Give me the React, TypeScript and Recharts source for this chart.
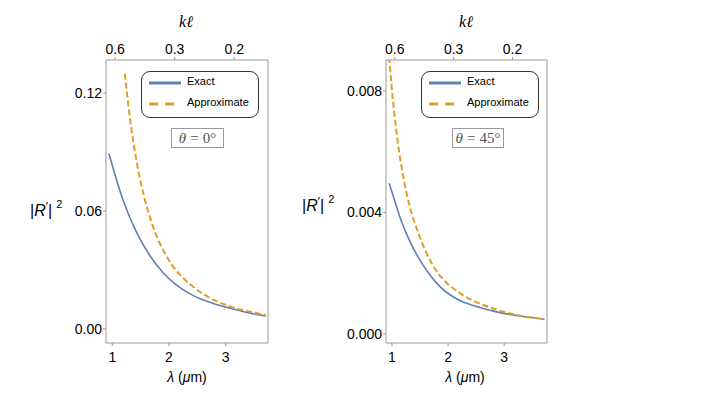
import React from "react";
import { LineChart, Line, XAxis, YAxis, Legend, ReferenceLine } from "recharts";

// bottom axis: wavelength in µm
const lambdaTicks = [1, 2, 3];
// top axis: kℓ labels and the λ where each one sits
const kEllLabels = ["0.6", "0.3", "0.2"];
const kEllAtLambda = [1.05, 2.1, 3.15];

// θ = 0°
const leftExactLambda = [0.94, 1.18, 1.43, 1.67, 1.9, 2.14, 2.43, 2.78, 3.13, 3.43, 3.71];
const leftExact = [0.0893, 0.0664, 0.049, 0.037, 0.0285, 0.0222, 0.017, 0.013, 0.0102, 0.0081, 0.0066];
const leftApproxLambda = [1.22, 1.27, 1.33, 1.38, 1.44, 1.56, 1.67, 1.78, 1.9, 2.08, 2.25, 2.49, 2.78, 3.13, 3.43, 3.71];
const leftApprox = [0.1299, 0.117, 0.1032, 0.0935, 0.0834, 0.0674, 0.0563, 0.0474, 0.0401, 0.0315, 0.026, 0.02, 0.015, 0.011, 0.0088, 0.0071];
const leftYTicks = [0, 0.06, 0.12];

// θ = 45°
const rightExactLambda = [0.95, 1.03, 1.15, 1.33, 1.56, 1.68, 1.86, 2.04, 2.21, 2.39, 2.57, 2.81, 3.04, 3.28, 3.52, 3.72];
const rightExact = [0.00496, 0.00449, 0.0038, 0.003, 0.00225, 0.00193, 0.00155, 0.00128, 0.0011, 0.00097, 0.00087, 0.00075, 0.00066, 0.00059, 0.00053, 0.00048];
const rightApproxLambda = [0.95, 0.96, 0.99, 1.04, 1.1, 1.16, 1.23, 1.31, 1.49, 1.71, 1.83, 1.98, 2.12, 2.27, 2.45, 2.63, 2.81, 2.98, 3.16, 3.34, 3.52, 3.69];
const rightApprox = [0.00912, 0.00888, 0.00822, 0.00728, 0.00635, 0.0056, 0.0049, 0.00425, 0.00322, 0.00232, 0.00198, 0.00167, 0.00146, 0.00127, 0.00109, 0.00095, 0.00083, 0.00073, 0.00065, 0.00058, 0.00053, 0.00049];
const rightYTicks = [0, 0.004, 0.008];

const BLUE = "#5E81B5";
const ORANGE = "#E19C24";
const FRAME = "#999";
const SANS = "'Liberation Sans', Arial, sans-serif";
const SERIF = "'Liberation Serif', 'Times New Roman', serif";

const zip = (xs: number[], ys: number[]) => xs.map((x, i) => ({ x, y: ys[i] }));

function LegendBox() {
  return (
    <div
      style={{
        position: "relative",
        width: 118,
        height: 47,
        boxSizing: "border-box",
        border: "1.3px solid #333",
        borderRadius: 9,
        background: "#fff",
        fontFamily: SANS,
        fontSize: 11,
        color: "#000",
      }}
    >
      <svg width={34} height={34} style={{ position: "absolute", left: 6, top: 2 }}>
        <line x1={1} x2={33} y1={9} y2={9} stroke={BLUE} strokeWidth={3} />
        <line x1={1} x2={33} y1={30} y2={30} stroke={ORANGE} strokeWidth={3} strokeDasharray="9 7" />
      </svg>
      <div style={{ position: "absolute", left: 45, top: 3 }}>Exact</div>
      <div style={{ position: "absolute", left: 45, top: 24 }}>Approximate</div>
    </div>
  );
}

interface PanelProps {
  left: number;
  exact: { x: number; y: number }[];
  approx: { x: number; y: number }[];
  xDomain: [number, number];
  yDomain: [number, number];
  yTicks: number[];
  digits: number;
  marginRight: number;
}

function Panel({ left, exact, approx, xDomain, yDomain, yTicks, digits, marginRight }: PanelProps) {
  const tickText = { fill: "#000", fontSize: 14, fontFamily: SANS };
  return (
    <div style={{ position: "absolute", left, top: 0 }}>
      <LineChart width={300} height={396} margin={{ top: 30, right: marginRight, bottom: 23, left: 56 }}>
        <XAxis
          xAxisId="bottom"
          type="number"
          dataKey="x"
          domain={xDomain}
          allowDataOverflow
          ticks={lambdaTicks}
          height={30}
          stroke={FRAME}
          tickSize={3}
          tickMargin={6}
          tick={tickText}
        />
        <XAxis
          xAxisId="top"
          orientation="top"
          type="number"
          dataKey="x"
          domain={xDomain}
          allowDataOverflow
          ticks={kEllAtLambda}
          tickFormatter={(v: number) => kEllLabels[kEllAtLambda.indexOf(v)] ?? ""}
          height={30}
          stroke={FRAME}
          tickSize={3}
          tickMargin={3}
          tick={tickText}
        />
        <YAxis
          type="number"
          domain={yDomain}
          allowDataOverflow
          ticks={yTicks}
          tickFormatter={(v: number) => v.toFixed(digits)}
          width={50}
          stroke={FRAME}
          tickSize={3}
          tickMargin={1}
          tick={tickText}
        />
        <ReferenceLine xAxisId="bottom" x={xDomain[1]} stroke={FRAME} strokeWidth={1} />
        <Line
          xAxisId="bottom"
          data={exact}
          dataKey="y"
          type="monotone"
          stroke={BLUE}
          strokeWidth={1.6}
          dot={false}
          isAnimationActive={false}
        />
        <Line
          xAxisId="bottom"
          data={approx}
          dataKey="y"
          type="monotone"
          stroke={ORANGE}
          strokeWidth={2}
          strokeDasharray="6 3"
          dot={false}
          isAnimationActive={false}
        />
        <Legend
          layout="horizontal"
          verticalAlign="middle"
          align="center"
          wrapperStyle={{ position: "absolute", left: 141, top: 71, width: 118, height: 47 }}
          content={() => <LegendBox />}
        />
      </LineChart>
    </div>
  );
}

const YLabel = ({ left, top }: { left: number; top: number }) => (
  <div style={{ position: "absolute", left, top, fontFamily: SANS, fontSize: 16, lineHeight: "16px", whiteSpace: "nowrap" }}>
    |<i>R</i>
    <span style={{ fontSize: 12, verticalAlign: 5 }}>′</span>|
    <span style={{ fontSize: 11, verticalAlign: 8, marginLeft: 4 }}>2</span>
  </div>
);

const XLabel = ({ center }: { center: number }) => (
  <div style={{ position: "absolute", left: center - 40, width: 80, top: 369, textAlign: "center", fontFamily: SANS, fontSize: 14, whiteSpace: "nowrap" }}>
    <i>λ</i> (<i>μ</i>m)
  </div>
);

const TopLabel = ({ center }: { center: number }) => (
  <div style={{ position: "absolute", left: center - 30, width: 60, top: 13, textAlign: "center", fontFamily: SERIF, fontSize: 16, fontStyle: "italic" }}>
    kℓ
  </div>
);

const AngleBox = ({ left, width, text }: { left: number; width: number; text: string }) => (
  <div
    style={{
      position: "absolute",
      left,
      top: 128,
      width,
      height: 20,
      boxSizing: "border-box",
      border: "1px solid #999",
      background: "#fff",
      fontFamily: SERIF,
      fontSize: 15,
      lineHeight: "18px",
      color: "#555",
      textAlign: "center",
      whiteSpace: "nowrap",
    }}
  >
    <i>θ</i>
    <span style={{ margin: "0 4px" }}>=</span>
    {text}
  </div>
);

export default function App() {
  return (
    <div style={{ position: "absolute", left: 0, top: 0, width: 704, height: 396, background: "#fff", overflow: "hidden" }}>
      <Panel
        left={0}
        exact={zip(leftExactLambda, leftExact)}
        approx={zip(leftApproxLambda, leftApprox)}
        xDomain={[0.889, 3.746]}
        yDomain={[-0.0071, 0.1368]}
        yTicks={leftYTicks}
        digits={2}
        marginRight={32}
      />
      <Panel
        left={280}
        exact={zip(rightExactLambda, rightExact)}
        approx={zip(rightApproxLambda, rightApprox)}
        xDomain={[0.893, 3.764]}
        yDomain={[-0.0003, 0.00902]}
        yTicks={rightYTicks}
        digits={3}
        marginRight={33}
      />
      <YLabel left={30} top={196} />
      <YLabel left={302} top={191} />
      <XLabel center={187} />
      <XLabel center={465} />
      <TopLabel center={186} />
      <TopLabel center={466} />
      <AngleBox left={171} width={53} text="0°" />
      <AngleBox left={452} width={52} text="45°" />
    </div>
  );
}
